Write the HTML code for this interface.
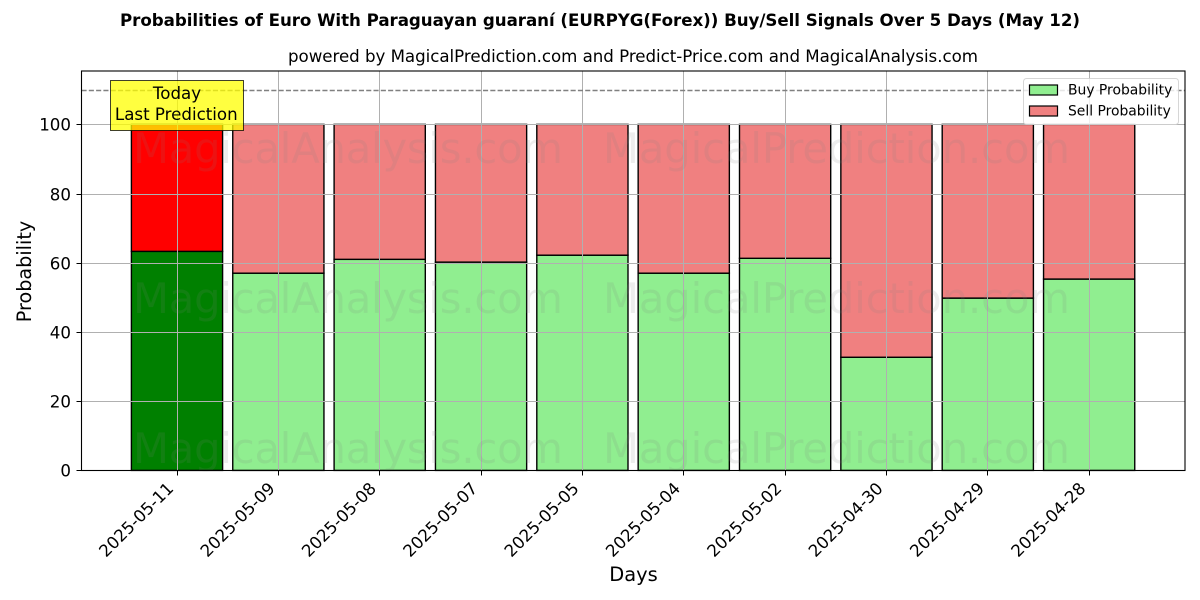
<!DOCTYPE html>
<html lang="en">
<head>
<meta charset="utf-8">
<title>Probabilities of Euro With Paraguayan guaraní</title>
<style>
html,body{margin:0;padding:0;background:#fff;width:1200px;height:600px;overflow:hidden}
svg{display:block}
text{font-family:"DejaVu Sans",sans-serif;fill:#000}
</style>
</head>
<body>
<svg id="chart" xmlns="http://www.w3.org/2000/svg" width="1200" height="600" viewBox="0 0 1200 600">
  <rect x="0" y="0" width="1200" height="600" fill="#fff"/>
  <text x="120" y="26" textLength="960" lengthAdjust="spacing" font-size="16.67" font-weight="bold">Probabilities of Euro With Paraguayan guaraní (EURPYG(Forex)) Buy/Sell Signals Over 5 Days (May 12)</text>
  <text x="288" y="62" textLength="690" lengthAdjust="spacing" font-size="16.67">powered by MagicalPrediction.com and Predict-Price.com and MagicalAnalysis.com</text>
  <g id="bars"></g>
  <g id="grid"></g>
  <g id="watermarks"></g>
  <line id="refline" x1="81.5" x2="1185" stroke="#808080" stroke-width="1.39" stroke-dasharray="5.1 2.2"/>
  <rect x="81.5" y="71" width="1103.5" height="399.5" fill="none" stroke="#000" stroke-width="1.1"/>
  <g id="axes"></g>
  <text x="633.5" y="581" text-anchor="middle" font-size="19.44">Days</text>
  <text transform="translate(31 271.5) rotate(-90)" text-anchor="middle" font-size="19.2">Probability</text>
  <g>
    <rect x="110.5" y="80.5" width="133" height="50" fill="#ffff00" fill-opacity="0.75" stroke="#000" stroke-opacity="0.75" stroke-width="1"/>
    <text x="177" y="99" text-anchor="middle" font-size="16.67">Today</text>
    <text x="176.3" y="120" text-anchor="middle" font-size="16.67">Last Prediction</text>
  </g>
  <g>
    <rect x="1023.5" y="78.5" width="155" height="46" rx="3" fill="#fff" fill-opacity="0.8" stroke="#ccc" stroke-opacity="0.8"/>
    <rect x="1029.5" y="85" width="28" height="10" fill="#90ee90" stroke="#000" stroke-width="1.2"/>
    <text x="1068" y="94.5" font-size="13.89">Buy Probability</text>
    <rect x="1029.5" y="106" width="28" height="10" fill="#f08080" stroke="#000" stroke-width="1.2"/>
    <text x="1068" y="115.5" font-size="13.89">Sell Probability</text>
  </g>
</svg>
<script>
const days = ["2025-05-11","2025-05-09","2025-05-08","2025-05-07","2025-05-05","2025-05-04","2025-05-02","2025-04-30","2025-04-29","2025-04-28"];
const buyValues = [63.3,57,61,60.2,62.2,57,61.3,32.7,49.8,55.3];
const yTicks = [0,20,40,60,80,100];
const referenceLevel = [110];

const NS = "http://www.w3.org/2000/svg";
const xScale = function(i){ return 177 + i * 101.35; };
const yScale = function(v){ return 470.4 - v * 3.46; };
const snapX = function(p){ return Math.floor(p) + 0.5; };
const snapY = function(p){ return Math.round(p) + 0.5; };
const barWidth = 91.2;

function make(parent, tag, attrs, text){
  const el = document.createElementNS(NS, tag);
  for (const k in attrs) el.setAttribute(k, attrs[k]);
  if (text !== undefined) el.textContent = text;
  parent.appendChild(el);
  return el;
}

const barsG = document.getElementById("bars");
const gridG = document.getElementById("grid");
const axesG = document.getElementById("axes");
const wmG = document.getElementById("watermarks");

days.forEach(function(day, i){
  const x = xScale(i) - barWidth / 2;
  const buy = buyValues[i];
  const first = i === 0;
  const buyBar = make(barsG, "rect", {x:x, y:yScale(buy), width:barWidth, height:yScale(0)-yScale(buy), fill:first?"#008000":"#90ee90", stroke:"#000", "stroke-width":1.39});
  
  
  const sellBar = make(barsG, "rect", {x:x, y:yScale(100), width:barWidth, height:yScale(buy)-yScale(100), fill:first?"#ff0000":"#f08080", stroke:"#000", "stroke-width":1.39});
  
  

  const gx = snapX(xScale(i));
  const gl = make(gridG, "line", {x1:gx, x2:gx, y1:71, y2:470.5, stroke:"#b0b0b0", "stroke-width":1});
  
  

  const tick = make(axesG, "line", {x1:gx, x2:gx, y1:470.5, y2:475.5, stroke:"#000", "stroke-width":1});
  
  

  const lx = xScale(i) - 11, ly = 481;
  const label = make(axesG, "text", {transform:"translate("+lx+" "+ly+") rotate(-45)", "text-anchor":"end", "dominant-baseline":"hanging", "font-size":16.67}, day);
  
  
});

yTicks.forEach(function(v){
  const y = snapY(yScale(v));
  const gl = make(gridG, "line", {x1:81.5, x2:1185, y1:y, y2:y, stroke:"#b0b0b0", "stroke-width":1});
  
  
  const tick = make(axesG, "line", {x1:76.5, x2:81.5, y1:y, y2:y, stroke:"#000", "stroke-width":1});
  
  
  const label = make(axesG, "text", {x:71, y:y+6, "text-anchor":"end", "font-size":16.67}, String(v));
  
  
});

const ref = document.getElementById("refline");
ref.setAttribute("y1", snapY(yScale(referenceLevel[0])));
ref.setAttribute("y2", snapY(yScale(referenceLevel[0])));

[163, 313, 463].forEach(function(y){
  const a = make(wmG, "text", {x:133, y:y, textLength:430, lengthAdjust:"spacing", "font-size":41.67, style:"fill:#808080;fill-opacity:0.14"}, "MagicalAnalysis.com");
  
  
  const b = make(wmG, "text", {x:603, y:y, textLength:467, lengthAdjust:"spacing", "font-size":41.67, style:"fill:#808080;fill-opacity:0.14"}, "MagicalPrediction.com");
  
  
});
</script>
</body>
</html>
